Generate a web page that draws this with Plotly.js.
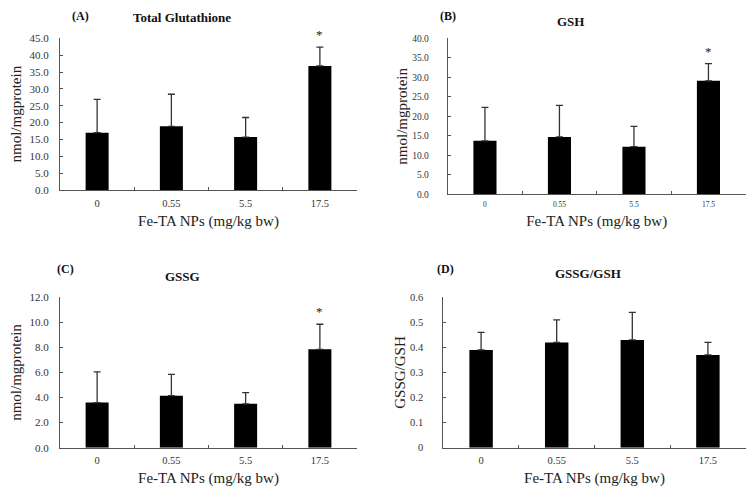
<!DOCTYPE html>
<html>
<head>
<meta charset="utf-8">
<script src="https://cdn.plot.ly/plotly-3.0.1.min.js"></script>
<style>
  html, body { margin: 0; padding: 0; background: #fff; }
  #chart { width: 755px; height: 495px; }
</style>
</head>
<body>
<div id="chart"></div>
<script>
const DOSES = ["0", "0.55", "5.5", "17.5"];

const TOTAL_GSH = [17.0, 18.9, 15.7, 36.8];
const TOTAL_GSH_SD = [9.9, 9.5, 5.8, 5.6];

const GSH = [13.7, 14.7, 12.2, 29.1];
const GSH_SD = [8.6, 8.1, 5.2, 4.4];

const GSSG = [3.6, 4.15, 3.5, 7.85];
const GSSG_SD = [2.45, 1.7, 0.9, 2.0];

const RATIO = [0.39, 0.42, 0.43, 0.37];
const RATIO_SD = [0.07, 0.09, 0.11, 0.05];

const SIGNIFICANT = [false, false, false, true];

const W = 755, H = 495;
const FONT = "'Palatino Linotype', 'Book Antiqua', 'Liberation Serif', serif";
const px = (x) => x / W;
const py = (y) => 1 - y / H;

// xSize/ySize: tick label sizes, gap: tick label standoff, tGap: y title standoff
const panels = [
  { id: "", label: "(A)", title: "Total Glutathione", y: TOTAL_GSH, sd: TOTAL_GSH_SD, star: true,
    ytitle: "nmol/mgprotein", range: [0, 45], dtick: 5, fmt: ".1f",
    xSize: 10.5, ySize: 11, gap: 8, tGap: 4,
    box: [60, 357, 38.3, 190], labelPos: [80, 16], titlePos: [182, 17] },
  { id: "2", label: "(B)", title: "GSH", y: GSH, sd: GSH_SD, star: true,
    ytitle: "nmol/mgprotein", range: [0, 40], dtick: 5, fmt: ".1f",
    xSize: 7.5, ySize: 9.5, gap: 16, tGap: 0,
    box: [447.7, 745.7, 38.3, 194.3], labelPos: [448, 16], titlePos: [570, 21] },
  { id: "3", label: "(C)", title: "GSSG", y: GSSG, sd: GSSG_SD, star: true,
    ytitle: "nmol/mgprotein", range: [0, 12], dtick: 2, fmt: ".1f",
    xSize: 10.5, ySize: 11, gap: 8, tGap: 4,
    box: [60, 357, 297.3, 447.7], labelPos: [65, 269], titlePos: [182, 276] },
  { id: "4", label: "(D)", title: "GSSG/GSH", y: RATIO, sd: RATIO_SD, star: false,
    ytitle: "GSSG/GSH", range: [0, 0.6], dtick: 0.1, fmt: "",
    xSize: 10.5, ySize: 10.5, gap: 17, tGap: 0,
    box: [443.3, 745.7, 297.3, 447.7], labelPos: [446, 269], titlePos: [588, 273] },
];

const traces = [];
const annotations = [];
const layout = {
  width: W,
  height: H,
  margin: { l: 0, r: 0, t: 0, b: 0 },
  paper_bgcolor: "#fff",
  plot_bgcolor: "#fff",
  showlegend: false,
  bargap: 0.69,
  font: { family: FONT, color: "#000" },
};

panels.forEach((p) => {
  const [x0, x1, yTop, yBot] = p.box;
  traces.push({
    type: "bar",
    x: DOSES,
    y: p.y,
    xaxis: "x" + p.id,
    yaxis: "y" + p.id,
    marker: { color: "#000", line: { width: 0 } },
    error_y: {
      type: "data",
      symmetric: false,
      array: p.sd,
      arrayminus: p.sd.map(() => 0),
      color: "#333",
      thickness: 1.3,
      width: 3.5,
    },
    hoverinfo: "x+y",
  });

  layout["xaxis" + p.id] = {
    domain: [px(x0), px(x1)],
    anchor: "y" + p.id,
    type: "category",
    range: [-0.5, DOSES.length - 0.5],
    showline: true,
    linecolor: "#555",
    linewidth: 1,
    ticks: "inside",
    tickson: "boundaries",
    ticklen: 3,
    tickcolor: "#555",
    tickangle: 0,
    ticklabelstandoff: 3,
    showgrid: false,
    zeroline: false,
    tickfont: { family: FONT, size: p.xSize, color: "#333" },
    title: { text: "Fe-TA NPs (mg/kg bw)", font: { family: FONT, size: 15, color: "#222" }, standoff: 7 },
    fixedrange: true,
  };
  layout["yaxis" + p.id] = {
    domain: [py(yBot), py(yTop)],
    anchor: "x" + p.id,
    range: p.range,
    dtick: p.dtick,
    tickformat: p.fmt,
    showline: true,
    linecolor: "#555",
    linewidth: 1,
    ticks: "inside",
    ticklen: 3,
    tickcolor: "#555",
    ticklabelstandoff: p.gap,
    showgrid: false,
    zeroline: false,
    tickfont: { family: FONT, size: p.ySize, color: "#333" },
    title: { text: p.ytitle, font: { family: FONT, size: 15, color: "#222" }, standoff: p.tGap },
    fixedrange: true,
  };

  annotations.push({
    xref: "paper", yref: "paper", x: px(p.labelPos[0]), y: py(p.labelPos[1]),
    text: "<b>" + p.label + "</b>", showarrow: false, xanchor: "center", yanchor: "middle",
    font: { family: FONT, size: 12, color: "#111" },
  });
  annotations.push({
    xref: "paper", yref: "paper", x: px(p.titlePos[0]), y: py(p.titlePos[1]),
    text: "<b>" + p.title + "</b>", showarrow: false, xanchor: "center", yanchor: "middle",
    font: { family: FONT, size: 13, color: "#111" },
  });

  if (p.star) {
    DOSES.forEach((d, i) => {
      if (!SIGNIFICANT[i]) return;
      annotations.push({
        xref: "x" + p.id, yref: "y" + p.id, x: i, y: p.y[i] + p.sd[i],
        text: "*", showarrow: false, yanchor: "bottom", yshift: 3,
        font: { family: FONT, size: 13, color: "#222" },
      });
    });
  }
});

layout.annotations = annotations;

Plotly.newPlot("chart", traces, layout, { displayModeBar: false, staticPlot: true });
</script>
</body>
</html>
